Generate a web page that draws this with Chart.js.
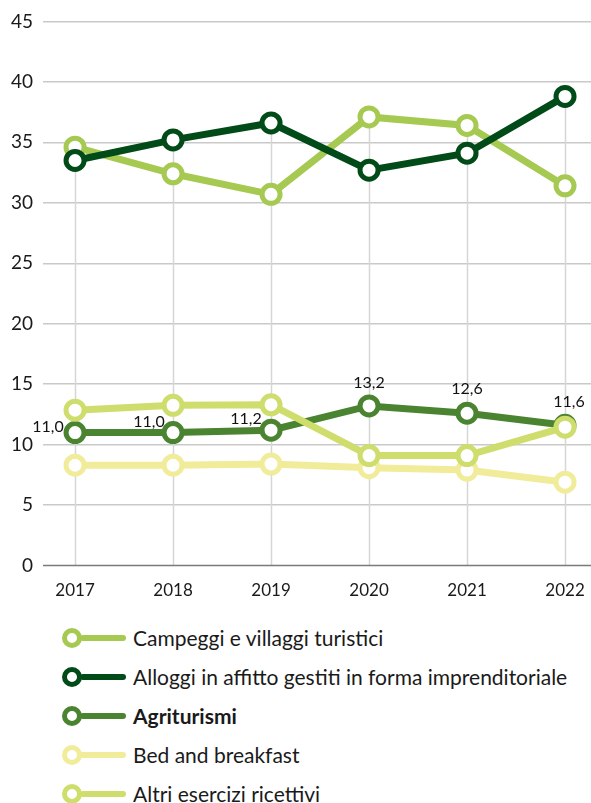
<!DOCTYPE html>
<html lang="it">
<head>
<meta charset="UTF-8">
<title>Strutture ricettive</title>
<script src="https://cdn.jsdelivr.net/npm/chart.js"></script>
<style>
  body { margin: 0; background: #fff; font-family: Lato, "Open Sans", sans-serif; }
  #wrap { width: 591px; height: 608px; position: relative; }
  #legend { margin-top: 10px; }
  .row { display: flex; align-items: center; height: 39px; padding-left: 62px; font-size: 21px; color: #1a1a1a; }
  .dot { width: 10px; height: 10px; border: 5px solid; border-radius: 50%; background: #fff; box-sizing: content-box; }
  .bar { width: 46px; height: 6px; border-radius: 3px; margin-left: -2px; margin-right: 7px; }
</style>
</head>
<body>
<div id="wrap"><canvas id="chart" width="591" height="608"></canvas></div>
<div id="legend"></div>

<script>
const years = [2017, 2018, 2019, 2020, 2021, 2022];
const yTicks = [0, 5, 10, 15, 20, 25, 30, 35, 40, 45];

const campeggi    = [34.6, 32.4, 30.7, 37.1, 36.4, 31.4];
const alloggi     = [33.5, 35.2, 36.6, 32.7, 34.1, 38.8];
const agriturismi = [11.0, 11.0, 11.2, 13.2, 12.6, 11.6];
const bedBreakfast = [8.3, 8.3, 8.4, 8.1, 7.9, 6.9];
const altri       = [12.85, 13.25, 13.3, 9.1, 9.1, 11.45];

const series = [
  { label: 'Campeggi e villaggi turistici', data: campeggi, color: '#a6c951', order: 4 },
  { label: 'Alloggi in affitto gestiti in forma imprenditoriale', data: alloggi, color: '#004b18', order: 1 },
  { label: 'Agriturismi', data: agriturismi, color: '#4a8430', order: 2, bold: true },
  { label: 'Bed and breakfast', data: bedBreakfast, color: '#f0ec9a', order: 3 },
  { label: 'Altri esercizi ricettivi', data: altri, color: '#cfdd6c', order: 0 }
];

// vertical lines drawn from the highest point of each year down to zero
const dropLines = {
  id: 'dropLines',
  beforeDatasetsDraw(chart) {
    const { ctx, scales: { x, y } } = chart;
    ctx.save();
    ctx.strokeStyle = '#d6d6d6';
    ctx.lineWidth = 1.5;
    years.forEach((yr, i) => {
      const top = Math.max(...series.map(s => s.data[i]));
      const px = Math.round(x.getPixelForValue(yr)) + 0.5;
      ctx.beginPath();
      ctx.moveTo(px, y.getPixelForValue(top));
      ctx.lineTo(px, y.getPixelForValue(0));
      ctx.stroke();
    });
    // darker zero line
    ctx.strokeStyle = '#7a7a7a';
    ctx.lineWidth = 1.5;
    const py = y.getPixelForValue(0);
    ctx.beginPath();
    ctx.moveTo(chart.chartArea.left, py);
    ctx.lineTo(chart.chartArea.right, py);
    ctx.stroke();
    ctx.restore();
  }
};

// value labels for Agriturismi
const labelOffsets = [[-27, -6], [-24, -11], [-25, -11], [0, -23], [0, -24], [4, -23]];
const agriLabels = {
  id: 'agriLabels',
  afterDatasetsDraw(chart) {
    const { ctx, scales: { x, y } } = chart;
    ctx.save();
    ctx.font = '16px Lato, sans-serif';
    ctx.fillStyle = '#111';
    ctx.textAlign = 'center';
    ctx.textBaseline = 'middle';
    agriturismi.forEach((v, i) => {
      const [dx, dy] = labelOffsets[i];
      ctx.fillText(v.toFixed(1).replace('.', ','), x.getPixelForValue(years[i]) + dx, y.getPixelForValue(v) + dy);
    });
    ctx.restore();
  }
};

new Chart(document.getElementById('chart'), {
  type: 'line',
  data: {
    datasets: series.map(s => ({
      label: s.label,
      data: s.data.map((v, i) => ({ x: years[i], y: v })),
      borderColor: s.color,
      backgroundColor: '#fff',
      borderWidth: 7,
      pointRadius: 9,
      pointBorderWidth: 5,
      pointBackgroundColor: '#fff',
      pointBorderColor: s.color,
      order: s.order,
      clip: false,
      tension: 0
    }))
  },
  options: {
    responsive: false,
    animation: false,
    layout: { autoPadding: false, padding: { top: 8, right: 0, left: 0, bottom: 0 } },
    plugins: { legend: { display: false }, tooltip: { enabled: false } },
    scales: {
      x: {
        type: 'linear',
        min: 2016.673,
        max: 2022.265,
        afterFit: axis => { axis.paddingLeft = 0; axis.paddingRight = 0; },
        grid: { display: false },
        border: { display: false },
        ticks: {
          stepSize: 1,
          includeBounds: false,
          padding: 7,
          color: '#1a1a1a',
          font: { family: 'Lato', size: 17 },
          callback: v => String(v)
        }
      },
      y: {
        min: 0,
        max: 45,
        afterFit: axis => { axis.width = 43; },
        afterBuildTicks: axis => { axis.ticks = yTicks.map(v => ({ value: v })); },
        grid: {
          color: ctx => ctx.tick && ctx.tick.value === 0 ? 'rgba(0,0,0,0)' : '#c9c9c9',
          lineWidth: 1.5,
          drawTicks: false
        },
        border: { display: false },
        ticks: {
          padding: 10,
          color: '#1a1a1a',
          font: { family: 'Lato', size: 19 }
        }
      }
    }
  },
  plugins: [dropLines, agriLabels]
});

// legend rows
document.getElementById('legend').innerHTML = series.map(s => `
  <div class="row">
    <span class="dot" style="border-color:${s.color}"></span>
    <span class="bar" style="background:${s.color}"></span>
    <span style="${s.bold ? 'font-weight:bold' : ''}">${s.label}</span>
  </div>`).join('');
</script>
</body>
</html>
